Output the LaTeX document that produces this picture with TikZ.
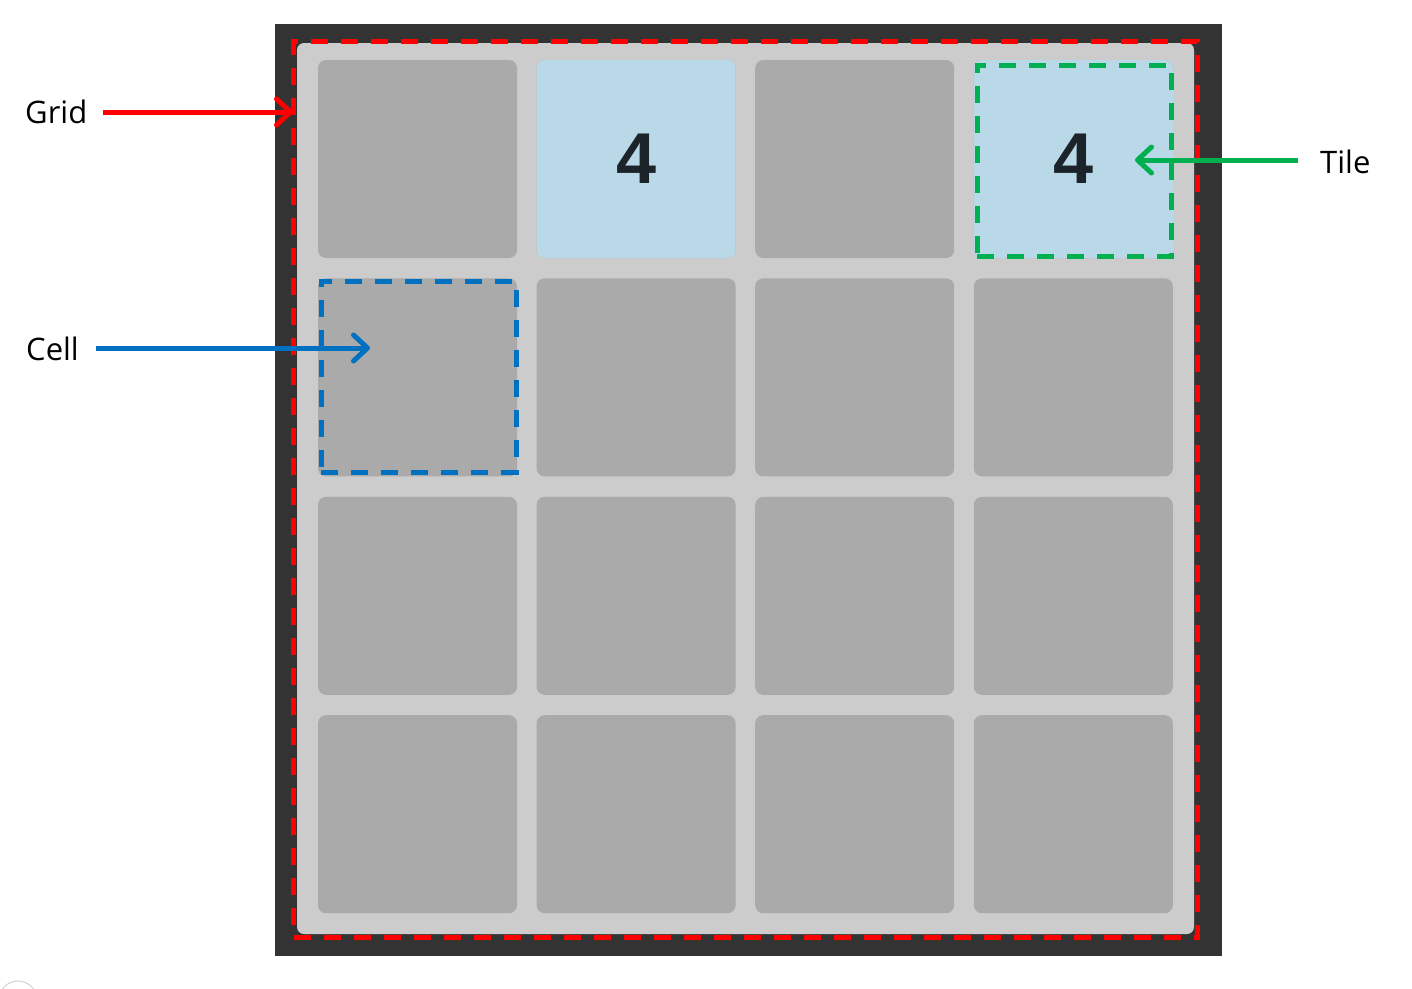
\documentclass[tikz,border=0pt]{standalone}
\usepackage{fontspec}
\setmainfont{Open Sans}
\newfontfamily\digitfont{Liberation Sans}
\usetikzlibrary{arrows.meta}
\definecolor{framedark}{HTML}{333333}
\definecolor{boardgray}{HTML}{CCCCCC}
\definecolor{cellgray}{HTML}{AAAAAA}
\definecolor{tileblue}{HTML}{B9D9E8}
\definecolor{digitdark}{HTML}{1C2429}
\definecolor{gridred}{HTML}{FF0000}
\definecolor{tilegreen}{HTML}{00B050}
\definecolor{cellblue}{HTML}{0070C0}
\begin{document}
\begin{tikzpicture}[x=1pt,y=-1pt,
	cellbox/.style={fill=cellgray,rounded corners=8pt,minimum width=199pt,minimum height=198pt,inner sep=0pt},
	tilebox/.style={cellbox,fill=tileblue,text=digitdark,font=\digitfont\bfseries\fontsize{72}{80}\selectfont},
	markbox/.style={draw=#1,line width=5pt,dash pattern=on 17pt off 13pt,inner sep=0pt},
	lbl/.style={anchor=west,inner sep=0pt,font=\fontsize{31}{36}\selectfont},
	pointer/.style={draw=#1,line width=5pt,-{Straight Barb[length=14pt,width=26pt,round]}}]
		\useasboundingbox (0,0) rectangle (1412,988);
		\fill[framedark] (275,24) rectangle (1222,956);
		\fill[boardgray,rounded corners=7pt] (297,43) rectangle (1194,934);
		\foreach \r in {0,...,3}
		\foreach \c in {0,...,3}
		\node[cellbox] (c\r\c) at (417.5+218.6*\c,159+218.4*\r) {};
		\node[tilebox] (t1) at (c01) {4};
		\node[tilebox] (t2) at (c03) {4};
		% dashed marks
		\node[markbox=gridred,minimum width=904pt,minimum height=896pt] (grid) at (745.5,489.5) {};
		\node[markbox=tilegreen,minimum width=194pt,minimum height=191pt] (tile) at (1074,160.5) {};
		\node[markbox=cellblue,minimum width=195pt,minimum height=191pt] (cell) at (418.5,376.5) {};
		% labels
		\node[lbl] (gridlbl) at (25,112) {Grid};
		\node[lbl] (celllbl) at (26,349) {Cell};
		\node[lbl] (tilelbl) at (1320,162) {Tile};
		\coordinate (gridtip) at (293,112);
		\coordinate (celltip) at (370,348);
		\coordinate (tiletip) at (1135,160);
		\draw[pointer=gridred] ([xshift=16pt]gridlbl.east |- gridtip) -- (gridtip);
		\draw[pointer=cellblue] ([xshift=17pt]celllbl.east |- celltip) -- (celltip);
		\draw[pointer=tilegreen] ([xshift=-22pt]tilelbl.west |- tiletip) -- (tiletip);
		\draw[gray!35,line width=1pt] (18,1000) circle (19pt);
\end{tikzpicture}
\end{document}
